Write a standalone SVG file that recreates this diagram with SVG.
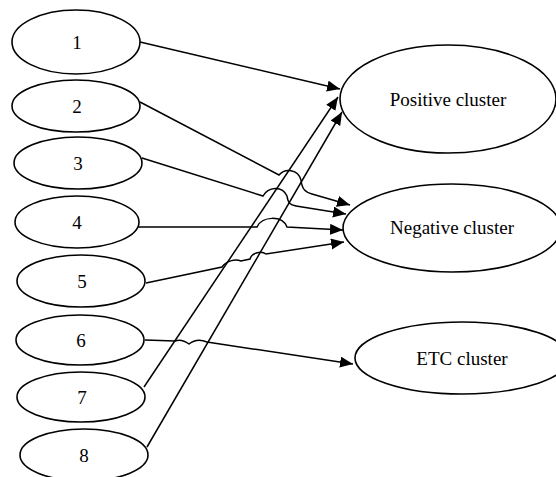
<svg xmlns="http://www.w3.org/2000/svg" width="556" height="477" viewBox="0 0 556 477">
<style>
.n{fill:#fff;stroke:#000;stroke-width:1.6}
.t{font-family:"Liberation Serif","Times New Roman",serif;font-size:19px;fill:#000;text-anchor:middle}
.c{fill:none;stroke:#000;stroke-width:1.5;marker-end:url(#ah)}
</style>
<defs>
<marker id="ah" markerUnits="userSpaceOnUse" markerWidth="14" markerHeight="12" refX="13" refY="5.5" orient="auto">
<path d="M0,0 L13,5.5 L0,11 z" fill="#000"/>
</marker>
</defs>
<g id="connectors">
<path class="c" d="M140,42 L340,89"/>
<path class="c" d="M144,387 L338,97"/>
<path class="c" d="M147,447 L342,112"/>
<path class="c" d="M140,102 L279,175 C285,168 298,169 301,180 C302,189 305,192 312,194 L350,205"/>
<path class="c" d="M142,158 L263,196 C268,187 282,185 287,196 C288,203 290,205 296,206 L346,214"/>
<path class="c" d="M138,227 L257,227 C262,216 282,215 287,227 L343,230"/>
<path class="c" d="M146,283 L222,267 C227,260 236,259 241,261 L250,259 C252,252 262,251 266,254 L344,242"/>
<path class="c" d="M145,340 L175,341 C180,339 185,341 189,344 C194,340 200,339 207,342 L353,364"/>
</g>
<g id="n1"><ellipse class="n" cx="76" cy="42" rx="64" ry="32"/><text class="t" x="77" y="49">1</text></g>
<g id="n2"><ellipse class="n" cx="76" cy="106" rx="64" ry="26"/><text class="t" x="77" y="113">2</text></g>
<g id="n3"><ellipse class="n" cx="78" cy="163" rx="64" ry="26"/><text class="t" x="78" y="170">3</text></g>
<g id="n4"><ellipse class="n" cx="77" cy="222" rx="62" ry="26"/><text class="t" x="77" y="229">4</text></g>
<g id="n5"><ellipse class="n" cx="81" cy="281" rx="64" ry="26"/><text class="t" x="82" y="288">5</text></g>
<g id="n6"><ellipse class="n" cx="80" cy="340" rx="64" ry="25"/><text class="t" x="81" y="347">6</text></g>
<g id="n7"><ellipse class="n" cx="81" cy="397" rx="64" ry="25"/><text class="t" x="82" y="404">7</text></g>
<g id="n8"><ellipse class="n" cx="84" cy="455" rx="64" ry="26"/><text class="t" x="84" y="462">8</text></g>
<g id="positive"><ellipse class="n" cx="448" cy="99" rx="108" ry="54"/><text class="t" x="448" y="106">Positive cluster</text></g>
<g id="negative"><ellipse class="n" cx="452" cy="228" rx="109" ry="44"/><text class="t" x="452" y="234">Negative cluster</text></g>
<g id="etc"><ellipse class="n" cx="462" cy="358" rx="107" ry="36"/><text class="t" x="462" y="365">ETC cluster</text></g>
</svg>
